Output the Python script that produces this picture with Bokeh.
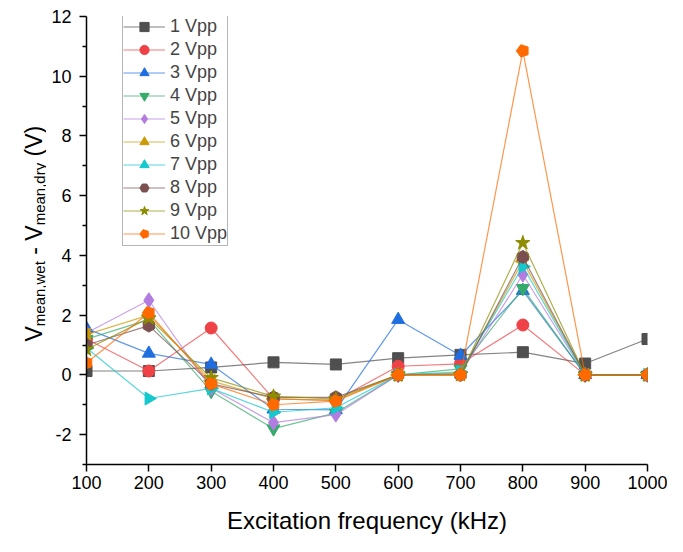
import math
from bokeh.plotting import figure
from bokeh.layouts import row
from bokeh.models import FixedTicker, Legend, LegendItem, Range1d
from bokeh.core.properties import value
from bokeh.embed import file_html
from bokeh.resources import INLINE

freq = [100, 200, 300, 400, 500, 600, 700, 800, 900, 1000]

v_1vpp = [0.13, 0.13, 0.25, 0.42, 0.35, 0.56, 0.67, 0.76, 0.38, 1.20]
v_2vpp = [1.20, 0.13, 1.57, -0.80, -0.85, 0.29, 0.37, 1.67, 0.00, 0.00]
v_3vpp = [1.55, 0.72, 0.35, -1.15, -1.17, 1.85, 0.65, 2.82, 0.00, 0.00]
v_4vpp = [1.20, 1.85, -0.55, -1.80, -1.27, 0.00, 0.20, 2.90, 0.00, 0.00]
v_5vpp = [1.40, 2.50, -0.45, -1.60, -1.33, 0.00, 0.05, 3.36, 0.00, 0.00]
v_6vpp = [1.35, 2.00, -0.20, -0.80, -0.85, 0.00, 0.05, 3.80, 0.00, 0.00]
v_7vpp = [0.90, -0.79, -0.45, -1.25, -1.10, 0.00, 0.10, 3.63, 0.00, 0.00]
v_8vpp = [1.00, 1.65, -0.30, -0.75, -0.75, 0.00, 0.00, 3.95, 0.00, 0.00]
v_9vpp = [0.85, 1.90, -0.10, -0.72, -0.80, 0.00, 0.00, 4.42, 0.00, 0.00]
v_10vpp = [0.40, 2.08, -0.30, -1.00, -0.88, 0.00, 0.00, 10.85, 0.00, 0.00]

series = [v_1vpp, v_2vpp, v_3vpp, v_4vpp, v_5vpp, v_6vpp, v_7vpp, v_8vpp, v_9vpp, v_10vpp]
names = ["1 Vpp", "2 Vpp", "3 Vpp", "4 Vpp", "5 Vpp", "6 Vpp", "7 Vpp", "8 Vpp", "9 Vpp", "10 Vpp"]
colors = ["#4F4F4F", "#EF4246", "#1F6EE0", "#36AB6B", "#B27CE0", "#CC9A06",
          "#14C8CC", "#7B4F4F", "#8E8C00", "#FF6A00"]

x_ticks = [100, 200, 300, 400, 500, 600, 700, 800, 900, 1000]
y_ticks = [-2, 0, 2, 4, 6, 8, 10, 12]
y_minor = [-3, -1, 1, 3, 5, 7, 9, 11]

x_title = "Excitation frequency (kHz)"

FONT = "Liberation Sans"
H = 536
STRIP_W = 46
TOP, BOTTOM = 16, 72

# ---- main plot ----
p = figure(width=667 - STRIP_W, height=H, output_backend="svg", toolbar_location=None,
           x_range=Range1d(100, 1000), y_range=Range1d(-3, 12),
           min_border_left=86 - STRIP_W, min_border_right=20,
           min_border_top=TOP, min_border_bottom=BOTTOM)
p.outline_line_color = None
p.xgrid.visible = False
p.ygrid.visible = False
p.background_fill_color = "white"
p.border_fill_color = "white"

for ax in (p.xaxis[0], p.yaxis[0]):
    ax.axis_line_width = 1.5
    ax.axis_line_color = "black"
    ax.major_tick_line_width = 1.5
    ax.minor_tick_line_width = 1.5
    ax.major_tick_in = 0
    ax.major_tick_out = 7
    ax.minor_tick_in = 0
    ax.minor_tick_out = 4
    ax.major_label_text_font = FONT
    ax.major_label_text_font_size = "18px"
    ax.major_label_text_color = "black"

p.xaxis[0].ticker = FixedTicker(ticks=x_ticks, minor_ticks=[])
p.yaxis[0].ticker = FixedTicker(ticks=y_ticks, minor_ticks=y_minor)
p.yaxis[0].major_label_overrides = {-2: "-2"}
p.xaxis[0].major_label_standoff = 4
p.yaxis[0].major_label_standoff = 8
p.xaxis[0].axis_label = x_title
p.xaxis[0].axis_label_text_font = FONT
p.xaxis[0].axis_label_text_font_size = "24px"
p.xaxis[0].axis_label_text_font_style = "normal"
p.xaxis[0].axis_label_text_color = "black"
p.xaxis[0].axis_label_standoff = 15

items = []
for i, (vals, name, c) in enumerate(zip(series, names, colors)):
    lr = p.line(freq, vals, line_color=c, line_width=1.2, line_alpha=0.7)
    if i == 0:
        mr = p.scatter(freq, vals, marker="square", size=11, color=c)
    elif i == 1:
        mr = p.scatter(freq, vals, marker="circle", size=12, color=c)
    elif i == 2:
        mr = p.scatter(freq, vals, marker="triangle", size=13, color=c)
    elif i == 3:
        mr = p.scatter(freq, vals, marker="inverted_triangle", size=13, color=c)
    elif i == 4:
        mr = p.scatter(freq, vals, marker="diamond", size=15, color=c)
    elif i == 5:
        mr = p.scatter(freq, vals, marker="triangle", angle=math.pi / 2, size=13, color=c)
    elif i == 6:
        mr = p.scatter(freq, vals, marker="triangle", angle=-math.pi / 2, size=13, color=c)
    elif i == 7:
        mr = p.scatter(freq, vals, marker="hex", angle=math.pi / 2, size=13, color=c)
    elif i == 8:
        mr = p.scatter(freq, vals, marker="star", size=15, color=c)
    else:
        mr = p.ngon(freq, vals, radius=6.5, radius_units="screen", n=5,
                    angle=math.pi / 2, fill_color=c, line_color=c)
    items.append(LegendItem(label=name, renderers=[lr, mr]))

frame_h = H - TOP - BOTTOM
legend_h = 10 * 23
legend = Legend(items=items, location=(36, frame_h - legend_h), padding=0, spacing=0,
                glyph_width=42, glyph_height=23, label_height=23, label_standoff=5,
                label_text_font=FONT, label_text_font_size="18px",
                label_text_baseline="middle",
                border_line_color="#6E6E6E", border_line_width=1,
                background_fill_color="white", background_fill_alpha=1.0)
p.add_layout(legend)

# ---- strip holding the rotated y-axis title (with subscripts) ----
# Its frame is aligned with the main frame by the row layout, so its y range
# is set so that y = H - (pixel row from the top of the canvas).
s = figure(width=STRIP_W, height=H, output_backend="svg", toolbar_location=None,
           x_range=Range1d(0, STRIP_W), y_range=Range1d(BOTTOM, H - TOP),
           x_axis_location=None, y_axis_location=None,
           min_border_left=0, min_border_right=0, min_border_top=TOP, min_border_bottom=BOTTOM)
s.xgrid.visible = False
s.ygrid.visible = False
s.outline_line_color = None
s.background_fill_color = "white"
s.border_fill_color = "white"

main_fs = 23
sub_fs = 15
SPACE = 0.278
# (text, font size, is subscript, width in em, gap before in em of main font)
pieces = [("V", main_fs, False, 0.667, 0.0),
          ("mean,wet", sub_fs, True, 4.335, 0.0),
          ("- V", main_fs, False, 0.333 + SPACE + 0.667, SPACE),
          ("mean,dry", sub_fs, True, 4.168, 0.0),
          ("(V)", main_fs, False, 1.333, SPACE)]
pos = H - 341
for text, fs, is_sub, em, gap in pieces:
    pos += gap * main_fs
    bx = 38.5 if is_sub else 33
    s.text(x=[bx], y=[pos], text=[text], angle=math.pi / 2, text_align="left",
           text_baseline="alphabetic", text_font=value(FONT),
           text_font_size=value(f"{fs}px"), text_color="black")
    pos += em * fs

layout = row(s, p, spacing=0)
open("out.html", "w").write(file_html(layout, INLINE))
